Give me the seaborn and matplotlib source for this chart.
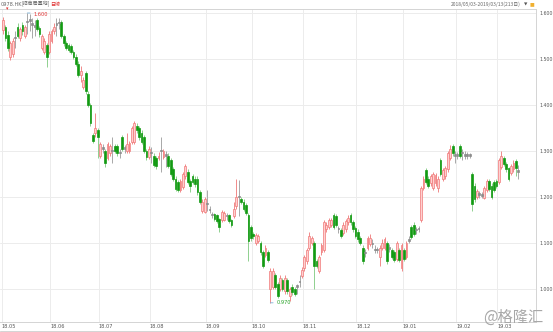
import numpy as np
import pandas as pd
import matplotlib
matplotlib.use("Agg")
import matplotlib.pyplot as plt
import seaborn as sns

# ---------------- data ----------------
opens = [1.563, 1.570, 1.552, 1.505, 1.510, 1.545, 1.570, 1.545, 1.575, 1.550,
         1.580, 1.585, 1.575, 1.570, 1.585, 1.568, 1.525, 1.515, 1.530, 1.515,
         1.540, 1.560, 1.575, 1.578, 1.580, 1.550, 1.535, 1.530, 1.528, 1.515,
         1.505, 1.490, 1.465, 1.440, 1.470, 1.425, 1.400, 1.335, 1.340, 1.345,
         1.290, 1.305, 1.300, 1.285, 1.295, 1.300, 1.310, 1.310, 1.295, 1.330,
         1.305, 1.300, 1.300, 1.320, 1.320, 1.355, 1.350, 1.340, 1.330, 1.300,
         1.287, 1.295, 1.290, 1.285, 1.285, 1.300, 1.288, 1.290, 1.290, 1.280,
         1.260, 1.240, 1.232, 1.215, 1.222, 1.245, 1.255, 1.235, 1.245, 1.240,
         1.240, 1.210, 1.170, 1.168, 1.185, 1.175, 1.162, 1.162, 1.160, 1.152,
         1.150, 1.150, 1.158, 1.160, 1.150, 1.158, 1.180, 1.200, 1.195, 1.190,
         1.182, 1.160, 1.135, 1.120, 1.100, 1.105, 1.100, 1.080, 1.075, 1.080,
         1.000, 1.005, 1.030, 1.010, 1.000, 1.020, 0.995, 1.020, 0.985, 1.005,
         1.000, 1.005, 1.015, 1.028, 1.045, 1.060, 1.090, 1.100, 1.100, 1.060,
         1.040, 1.080, 1.085, 1.130, 1.135, 1.140, 1.160, 1.158, 1.130, 1.128,
         1.122, 1.130, 1.145, 1.160, 1.145, 1.133, 1.125, 1.110, 1.090, 1.080,
         1.090, 1.098, 1.100, 1.085, 1.085, 1.070, 1.090, 1.090, 1.100, 1.090,
         1.085, 1.080, 1.065, 1.085, 1.045, 1.085, 1.070, 1.105, 1.135, 1.140,
         1.128, 1.132, 1.150, 1.220, 1.258, 1.240, 1.230, 1.220, 1.230, 1.220,
         1.280, 1.240, 1.245, 1.260, 1.285, 1.310, 1.292, 1.292, 1.310, 1.295,
         1.290, 1.292, 1.290, 1.250, 1.225, 1.200, 1.205, 1.203, 1.198, 1.215,
         1.235, 1.225, 1.232, 1.235, 1.232, 1.265, 1.285, 1.272, 1.262, 1.252,
         1.260, 1.278, 1.255]
closes = [1.585, 1.545, 1.525, 1.535, 1.540, 1.545, 1.550, 1.565, 1.560, 1.570,
          1.580, 1.583, 1.575, 1.572, 1.565, 1.555, 1.550, 1.540, 1.505, 1.555,
          1.560, 1.570, 1.575, 1.580, 1.550, 1.535, 1.525, 1.520, 1.515, 1.505,
          1.490, 1.465, 1.475, 1.455, 1.430, 1.400, 1.360, 1.322, 1.350, 1.330,
          1.315, 1.305, 1.275, 1.315, 1.310, 1.300, 1.300, 1.295, 1.295, 1.305,
          1.305, 1.315, 1.318, 1.350, 1.360, 1.345, 1.330, 1.320, 1.300, 1.287,
          1.305, 1.295, 1.270, 1.268, 1.290, 1.300, 1.300, 1.290, 1.268, 1.250,
          1.240, 1.218, 1.215, 1.235, 1.250, 1.268, 1.232, 1.225, 1.232, 1.228,
          1.210, 1.190, 1.190, 1.195, 1.185, 1.172, 1.160, 1.152, 1.148, 1.135,
          1.168, 1.165, 1.158, 1.148, 1.140, 1.175, 1.200, 1.200, 1.190, 1.175,
          1.165, 1.105, 1.110, 1.115, 1.118, 1.115, 1.080, 1.050, 1.090, 1.063,
          1.040, 1.040, 1.005, 0.985, 1.025, 1.000, 1.025, 0.995, 1.000, 0.993,
          0.990, 1.005, 1.015, 1.042, 1.070, 1.085, 1.115, 1.110, 1.050, 1.050,
          1.070, 1.095, 1.145, 1.140, 1.150, 1.150, 1.135, 1.140, 1.130, 1.115,
          1.140, 1.148, 1.155, 1.145, 1.130, 1.115, 1.108, 1.100, 1.060, 1.078,
          1.110, 1.110, 1.098, 1.087, 1.085, 1.090, 1.100, 1.108, 1.060, 1.088,
          1.070, 1.062, 1.100, 1.062, 1.095, 1.065, 1.100, 1.108, 1.112, 1.120,
          1.128, 1.130, 1.220, 1.240, 1.233, 1.225, 1.245, 1.250, 1.248, 1.240,
          1.250, 1.258, 1.262, 1.295, 1.305, 1.295, 1.290, 1.290, 1.290, 1.295,
          1.292, 1.290, 1.290, 1.185, 1.195, 1.212, 1.205, 1.205, 1.220, 1.235,
          1.218, 1.200, 1.215, 1.225, 1.280, 1.290, 1.272, 1.260, 1.240, 1.268,
          1.275, 1.262, 1.255]
highs = [1.592, 1.575, 1.560, 1.540, 1.545, 1.560, 1.578, 1.570, 1.580, 1.575,
         1.600, 1.598, 1.590, 1.585, 1.590, 1.572, 1.555, 1.545, 1.535, 1.560,
         1.565, 1.578, 1.590, 1.590, 1.585, 1.555, 1.540, 1.535, 1.532, 1.520,
         1.510, 1.495, 1.485, 1.460, 1.475, 1.430, 1.405, 1.340, 1.383, 1.350,
         1.320, 1.315, 1.305, 1.320, 1.315, 1.330, 1.315, 1.315, 1.305, 1.335,
         1.312, 1.340, 1.322, 1.355, 1.365, 1.360, 1.355, 1.345, 1.335, 1.305,
         1.310, 1.308, 1.295, 1.290, 1.298, 1.330, 1.305, 1.300, 1.295, 1.285,
         1.265, 1.245, 1.236, 1.240, 1.255, 1.272, 1.260, 1.240, 1.250, 1.245,
         1.245, 1.215, 1.195, 1.200, 1.215, 1.180, 1.168, 1.165, 1.163, 1.155,
         1.172, 1.170, 1.165, 1.163, 1.153, 1.190, 1.240, 1.238, 1.200, 1.195,
         1.186, 1.165, 1.140, 1.125, 1.122, 1.120, 1.105, 1.085, 1.095, 1.085,
         1.045, 1.045, 1.035, 1.015, 1.030, 1.025, 1.030, 1.025, 1.005, 1.010,
         1.005, 1.010, 1.030, 1.048, 1.075, 1.090, 1.125, 1.115, 1.105, 1.065,
         1.075, 1.100, 1.150, 1.145, 1.155, 1.155, 1.165, 1.162, 1.138, 1.132,
         1.145, 1.152, 1.160, 1.165, 1.150, 1.137, 1.130, 1.115, 1.095, 1.088,
         1.115, 1.120, 1.108, 1.095, 1.092, 1.095, 1.108, 1.112, 1.105, 1.098,
         1.090, 1.085, 1.105, 1.090, 1.100, 1.090, 1.105, 1.115, 1.140, 1.145,
         1.135, 1.138, 1.225, 1.245, 1.262, 1.245, 1.250, 1.255, 1.252, 1.245,
         1.285, 1.262, 1.268, 1.300, 1.312, 1.315, 1.300, 1.298, 1.315, 1.305,
         1.300, 1.298, 1.296, 1.255, 1.230, 1.218, 1.212, 1.210, 1.225, 1.240,
         1.240, 1.230, 1.236, 1.240, 1.285, 1.300, 1.290, 1.276, 1.266, 1.272,
         1.280, 1.282, 1.270]
lows = [1.555, 1.540, 1.518, 1.498, 1.505, 1.525, 1.545, 1.540, 1.552, 1.545,
        1.555, 1.560, 1.545, 1.550, 1.560, 1.548, 1.520, 1.510, 1.483, 1.510,
        1.535, 1.555, 1.550, 1.565, 1.545, 1.528, 1.520, 1.515, 1.510, 1.500,
        1.485, 1.460, 1.450, 1.435, 1.425, 1.395, 1.355, 1.318, 1.330, 1.285,
        1.285, 1.295, 1.265, 1.280, 1.290, 1.275, 1.295, 1.290, 1.285, 1.300,
        1.295, 1.295, 1.295, 1.315, 1.315, 1.340, 1.325, 1.315, 1.295, 1.280,
        1.282, 1.275, 1.265, 1.260, 1.280, 1.255, 1.282, 1.265, 1.262, 1.245,
        1.235, 1.212, 1.210, 1.210, 1.218, 1.240, 1.228, 1.210, 1.228, 1.222,
        1.205, 1.185, 1.165, 1.165, 1.170, 1.165, 1.155, 1.148, 1.143, 1.125,
        1.145, 1.147, 1.150, 1.143, 1.135, 1.155, 1.175, 1.158, 1.185, 1.170,
        1.160, 1.060, 1.105, 1.108, 1.095, 1.100, 1.075, 1.045, 1.070, 1.058,
        0.970, 1.000, 1.000, 0.980, 0.995, 0.995, 0.990, 0.990, 0.975, 0.988,
        0.985, 0.990, 1.005, 1.025, 1.040, 1.055, 1.085, 1.095, 1.000, 1.045,
        1.035, 1.075, 1.080, 1.125, 1.130, 1.135, 1.130, 1.135, 1.122, 1.110,
        1.118, 1.125, 1.140, 1.140, 1.125, 1.110, 1.103, 1.095, 1.055, 1.070,
        1.085, 1.093, 1.090, 1.078, 1.078, 1.050, 1.085, 1.085, 1.055, 1.080,
        1.065, 1.058, 1.060, 1.058, 1.040, 1.060, 1.065, 1.100, 1.108, 1.115,
        1.120, 1.125, 1.145, 1.215, 1.228, 1.220, 1.225, 1.215, 1.225, 1.210,
        1.245, 1.235, 1.240, 1.255, 1.280, 1.290, 1.275, 1.282, 1.285, 1.280,
        1.283, 1.282, 1.284, 1.170, 1.190, 1.195, 1.198, 1.197, 1.195, 1.210,
        1.213, 1.195, 1.210, 1.220, 1.228, 1.260, 1.268, 1.255, 1.235, 1.248,
        1.255, 1.245, 1.240]

month_starts = [0, 20, 40, 61, 84, 103, 124, 146, 165, 187, 204]
month_labels = ["18.05", "18.06", "18.07", "18.08", "18.09", "18.10",
                "18.11", "18.12", "19.01", "19.02", "19.03"]
y_ticks = [1.0, 1.1, 1.2, 1.3, 1.4, 1.5, 1.6]
y_labels = ["1.000", "1.100", "1.200", "1.300", "1.400", "1.500", "1.600"]

# ---------------- styling ----------------
sns.set_theme(style="white")
plt.rcParams["font.family"] = ["DejaVu Sans", "Noto Sans CJK SC"]
CJK = ["Noto Sans CJK SC", "DejaVu Sans"]

df = pd.DataFrame({"open": opens, "close": closes, "high": highs, "low": lows})
df["idx"] = np.arange(len(df))
df["body_lo"] = df[["open", "close"]].min(axis=1)
df["body_h"] = (df["close"] - df["open"]).abs()
df["kind"] = np.where(df["body_h"] < 0.004, "flat",
                      np.where(df["close"] > df["open"], "up", "down"))

W, H = 553, 332
fig = plt.figure(figsize=(W / 100, H / 100), dpi=100)
ax = fig.add_axes([0, (H - 322) / H, 536 / W, (322 - 9) / H])

styles = {
    "up":   dict(fill="#ffd0d0", edge="#f07878", wick="#f08a8a"),
    "down": dict(fill="#129a12", edge="#129a12", wick="#8fd08f"),
    "flat": dict(fill="#8c8c8c", edge="#8c8c8c", wick="#a8a8a8"),
}
for kind, st in styles.items():
    d = df[df["kind"] == kind]
    ax.vlines(d["idx"], d["low"], d["high"], color=st["wick"], lw=0.7, zorder=2)
    hgt = np.where(d["body_h"] < 0.004, 0.003, d["body_h"])
    ax.bar(d["idx"], hgt, bottom=d["body_lo"], width=0.72,
           color=st["fill"], edgecolor=st["edge"], linewidth=0.5, zorder=3)

ax.set_xlim(-1.23, 219.3)
ax.set_ylim(0.9283, 1.6087)

# grid & axes
ax.set_yticks(y_ticks)
ax.set_yticklabels(y_labels)
ax.yaxis.tick_right()
ax.set_xticks([m - 0.6 for m in month_starts])
ax.set_xticklabels(month_labels, ha="left")
ax.set_xticks(np.arange(0, len(df), 5) - 0.6, minor=True)
ax.grid(True, which="major", color="#ececec", lw=0.7, zorder=0)
ax.tick_params(axis="y", length=0, pad=2.2, labelsize=3.4, labelcolor="#555555")
ax.tick_params(axis="x", which="major", length=2, direction="in", pad=1.8,
               labelsize=3.6, labelcolor="#555555", color="#c8c8c8")
ax.tick_params(axis="x", which="minor", length=1.5, direction="in", color="#c8c8c8")
ax.spines["left"].set_visible(False)
for s in ["right", "bottom", "top"]:
    ax.spines[s].set_color("#d4d4d4")
    ax.spines[s].set_linewidth(0.7)

# max / min markers
imax = int(df["high"].idxmax())
vmax = df.loc[imax, "high"]
ax.annotate("", xy=(imax, vmax), xytext=(4, 0), textcoords="offset points",
            arrowprops=dict(arrowstyle="-", color="#7ab0d8", lw=0.6))
ax.annotate(f"{vmax:.3f}", xy=(imax, vmax), xytext=(4.3, -1), textcoords="offset points",
            color="#e03030", fontsize=3.6, va="center", ha="left")
imin = int(df["low"].idxmin())
vmin = df.loc[imin, "low"]
ax.annotate("", xy=(imin, vmin), xytext=(4, 0), textcoords="offset points",
            arrowprops=dict(arrowstyle="-", color="#7ab0d8", lw=0.6))
ax.annotate(f"{vmin:.3f}", xy=(imin, vmin), xytext=(4.3, 0), textcoords="offset points",
            color="#20a020", fontsize=3.6, va="center", ha="left")

# header texts
fig.text(1 / W, 1 - 4 / H, "0978.HK", fontsize=3.6, color="#666666", va="center", ha="left")
fig.text(22 / W, 1 - 4 / H, "[招商局置地]", fontsize=3.6, color="#666666",
         va="center", ha="left", family=CJK)
fig.text(50 / W, 1 - 4 / H, "日線", fontsize=3.6, color="#e03030",
         va="center", ha="left", family=CJK)
fig.text(7 / W, 1 - 8.5 / H, "▾", fontsize=3.5, color="#e03030", va="center", ha="center")
fig.text(521 / W, 1 - 4 / H, "2018/05/03-2019/03/13(213日)", fontsize=3.5,
         color="#666666", va="center", ha="right", family=CJK)
fig.text(526 / W, 1 - 4 / H, "▼", fontsize=3.2, color="#555555", va="center", ha="center")
fig.text(532 / W, 1 - 4 / H, "■", fontsize=3.6, color="#f0b030", va="center", ha="center")

# watermark
fig.text(483 / W, 1 - 317 / H, "@格隆汇", fontsize=11, color="#a8a8a8",
         va="center", ha="left", family=CJK)

# bottom border line
fig.add_artist(plt.Line2D([0, 1], [0.8 / H, 0.8 / H], color="#d4d4d4", lw=0.7))

fig.savefig("out.png", dpi=100)
